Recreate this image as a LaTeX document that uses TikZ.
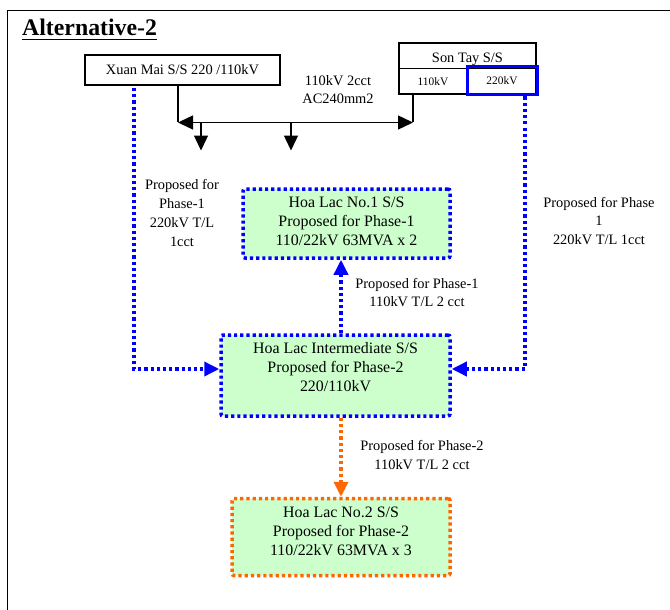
\documentclass[tikz,border=0pt]{standalone}
\usepackage{fontspec}
\setmainfont{Liberation Serif}
\usetikzlibrary{arrows.meta}
\definecolor{lineblue}{HTML}{0000FF}
\definecolor{lineorange}{HTML}{FF6600}
\definecolor{ssgreen}{HTML}{CCFFCC}
\begin{document}
\begin{tikzpicture}[x=1pt,y=-1pt,
  txt/.style={align=center, font=\fontsize{14.4}{18.8}\selectfont, inner sep=0},
  boxtxt/.style={align=center, font=\fontsize{15.9}{19}\selectfont, inner sep=0},
  smalltxt/.style={font=\fontsize{11.4}{13}\selectfont, inner sep=0},
  plainbox/.style={draw=black, line width=1.4pt, inner sep=0},
  ssbox/.style={fill=ssgreen, line width=3.5pt, dash pattern=on 3.2pt off 3pt,
    rounded corners=2pt, inner sep=0},
  bluedot/.style={draw=lineblue, line width=3.5pt, dash pattern=on 3.2pt off 3pt},
  orangedot/.style={draw=lineorange, line width=3.5pt, dash pattern=on 3.2pt off 3pt},
  bigtip/.style={-{Triangle[length=15pt,width=14pt]}},
  bus/.style={draw=black, line width=1.4pt},
]
\clip (0,0) rectangle (670,610);
\useasboundingbox (0,0) rectangle (670,610);
\fill[white] (0,0) rectangle (670,610);

% outer frame and heading
\draw[line width=1.6pt] (7.5,700) -- (7.5,10.5) -- (700,10.5);
\node[anchor=base west, inner sep=0, font=\bfseries\fontsize{23.8}{28}\selectfont]
  (title) at (22,36) {Alternative-2};
\draw[line width=1.8pt] ([yshift=-3.5pt]title.base west) -- ([yshift=-3.5pt]title.base east);

% existing substations
\node[plainbox, minimum width=195pt, minimum height=30pt, txt] (xm) at (182.5,70)
  {Xuan Mai S/S 220 /110kV};
\node[plainbox, minimum width=137pt, minimum height=51pt] (st) at (467.5,68.5) {};
\draw[line width=1.4pt] (st.west) -- (st.east);
\node[txt] (sttitle) at (467.5,59.5) {Son Tay S/S};
\node[smalltxt, minimum width=68pt, minimum height=26pt] (st110) at (433,81.5) {110kV};
\node[smalltxt, draw=lineblue, line width=3pt, minimum width=70pt, minimum height=28pt]
  (st220) at (502,81) {220kV};

% 110kV busbar
\coordinate (busL) at (178,122.5);
\coordinate (busR) at (413,122.5);
\coordinate (tapA) at (201,122.5);
\coordinate (tapB) at (291,122.5);
\coordinate (endA) at (201,150.5);
\coordinate (endB) at (291,150.5);
\draw[bus] (busL |- xm.south) -- (busL);
\draw[bus] (busR |- st.south) -- (busR);
\draw[bus, {Triangle[length=15pt,width=14pt]}-{Triangle[length=15pt,width=14pt]}] (busL) -- (busR);
\draw[bus, bigtip] (tapA) -- (endA);
\draw[bus, bigtip] (tapB) -- (endB);
\node[txt] (buslbl) at (338,89.5) {110kV 2cct\\AC240mm2};

% proposed substations
\node[ssbox, draw=lineblue, minimum width=207pt, minimum height=69pt] (hl1) at (346.5,223.5) {};
\node[boxtxt] (hl1txt) at (346.5,221) {Hoa Lac No.1 S/S\\Proposed for Phase-1\\110/22kV 63MVA x 2};
\node[ssbox, draw=lineblue, minimum width=229pt, minimum height=81pt] (hlm) at (335.5,375.5) {};
\node[boxtxt] (hlmtxt) at (335.5,367) {Hoa Lac Intermediate S/S\\Proposed for Phase-2\\220/110kV};
\node[ssbox, draw=lineorange, minimum width=218pt, minimum height=77pt] (hl2) at (341,537) {};
\node[boxtxt] (hl2txt) at (341,531.5) {Hoa Lac No.2 S/S\\Proposed for Phase-2\\110/22kV 63MVA x 3};

% proposed lines
\coordinate (xmtap) at (134,88);
\draw[bluedot, bigtip] (xmtap) |- ([yshift=6.5pt]hlm.west);
\draw[bluedot, bigtip] ([xshift=23pt]st220.south) |- ([yshift=6.5pt]hlm.east);
\draw[bluedot, bigtip] ([xshift=5.5pt]hlm.north) -- ([xshift=5.5pt]hlm.north |- hl1.south);
\draw[orangedot, bigtip] ([xshift=5.5pt]hlm.south) -- (hl2.north);

% line labels
\node[txt] (lblL) at (182,213) {Proposed for\\Phase-1\\220kV T/L\\1cct};
\node[txt] (lblR) at (599,221) {Proposed for Phase\\1\\220kV T/L 1cct};
\node[txt] (lblM) at (417,292.5) {Proposed for Phase-1\\110kV T/L 2 cct};
\node[txt] (lblO) at (422,455) {Proposed for Phase-2\\110kV T/L 2 cct};
\end{tikzpicture}
\end{document}
